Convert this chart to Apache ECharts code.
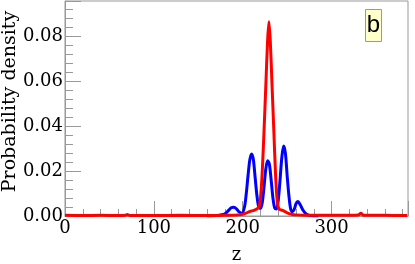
<!DOCTYPE html>
<html><head><meta charset="utf-8">
<script src="https://cdn.jsdelivr.net/npm/echarts@6/dist/echarts.min.js"></script>
<style>html,body{margin:0;padding:0;background:#fff}#c{width:415px;height:264px}</style>
</head><body><div id="c"></div>
<script>
var xTicks = [0, 100, 200, 300];
var yTicks = [0.00, 0.02, 0.04, 0.06, 0.08];
var blueZ = [160,170,175,180,184,187,190,193,196,199,202,204,206,208,210,212,214,216,218,220,222,224,226,228,230,232,234,236,238,240,242,244,246,248,250,252,254,256,258,260,262,264,266,268,271,275,280,285];
var blueP = [0,0.0002,0.0005,0.001,0.0025,0.0037,0.0039,0.0032,0.0018,0.0012,0.004,0.01,0.018,0.025,0.0276,0.025,0.017,0.009,0.004,0.0034,0.006,0.013,0.021,0.0246,0.023,0.016,0.008,0.0035,0.0031,0.007,0.016,0.026,0.0311,0.028,0.018,0.009,0.003,0.0019,0.003,0.0055,0.0064,0.0055,0.004,0.0025,0.001,0.0003,0,0];
var redZ = [0,20,40,60,68,70,73,100,130,160,180,195,202,208,214,218,220,222,224,226,228,229.5,231,233,235,237,239,241,245,250,255,260,270,300,320,330,333,336,360,385];
var redP = [0.0003,0.0002,0.0003,0.0002,0.0003,0.0007,0.0002,0.0002,0.0003,0.0002,0.0003,0.0005,0.001,0.002,0.0027,0.004,0.008,0.02,0.038,0.058,0.078,0.0864,0.078,0.058,0.038,0.018,0.006,0.003,0.0025,0.0014,0.0008,0.0005,0.0003,0.0003,0.0003,0.0004,0.0012,0.0003,0.0003,0.0002];
var xMax = 386, yMax = 0.0956;
function pairs(a,b){return a.map(function(v,i){return [v,b[i]];});}
var chart = echarts.init(document.getElementById('c'));
var serif = '"DejaVu Serif", serif';
chart.setOption({
  animation:false,
  grid:{left:65,right:7,top:1,bottom:48,show:true,borderColor:'#999',borderWidth:1,outerBoundsMode:'none',containLabel:false},
  xAxis:{type:'value',min:0,max:xMax,interval:xTicks[1]-xTicks[0],
    name:'z',nameLocation:'middle',nameGap:30,nameMoveOverlap:false,nameTextStyle:{fontFamily:serif,fontSize:18,color:'#000'},
    axisLine:{lineStyle:{color:'#999'}},
    axisTick:{inside:true,length:15,lineStyle:{color:'#999'}},
    minorTick:{show:true,splitNumber:5,length:7,lineStyle:{color:'#999'}},
    splitLine:{show:false},
    axisLabel:{showMaxLabel:false,fontFamily:serif,fontSize:18,color:'#000',margin:3,
      formatter:function(v){return xTicks.indexOf(v)>=0?String(v):'';}}},
  yAxis:{type:'value',min:0,max:yMax,interval:yTicks[1]-yTicks[0],
    name:'Probability density',nameLocation:'middle',nameGap:45,nameMoveOverlap:false,nameTextStyle:{fontFamily:serif,fontSize:19,color:'#000',padding:[0,0,0,14]},
    axisLine:{lineStyle:{color:'#999'}},
    axisTick:{inside:true,length:16,lineStyle:{color:'#999'}},
    minorTick:{show:true,splitNumber:5,length:8,lineStyle:{color:'#999'}},
    splitLine:{show:false},
    axisLabel:{showMaxLabel:false,fontFamily:serif,fontSize:18,color:'#000',margin:2,
      formatter:function(v){return v.toFixed(2);}}},
  series:[
    {type:'line',data:pairs(blueZ,blueP),smooth:0.3,showSymbol:false,lineStyle:{color:'#0000ff',width:3},itemStyle:{color:'#0000ff'}},
    {type:'line',data:pairs(redZ,redP),smooth:0.3,showSymbol:false,lineStyle:{color:'#ff0000',width:3},itemStyle:{color:'#ff0000'}}
  ],
  graphic:[{type:'group',left:365,top:9,children:[
    {type:'rect',shape:{x:0,y:0,width:16,height:32},style:{fill:'#ffffcc',stroke:'#a09a80',lineWidth:1}},
    {type:'text',x:8,y:16,style:{text:'b',fontFamily:'"Liberation Sans", sans-serif',fontSize:24,fill:'#000',align:'center',verticalAlign:'middle'}}
  ]}]
});
</script></body></html>
